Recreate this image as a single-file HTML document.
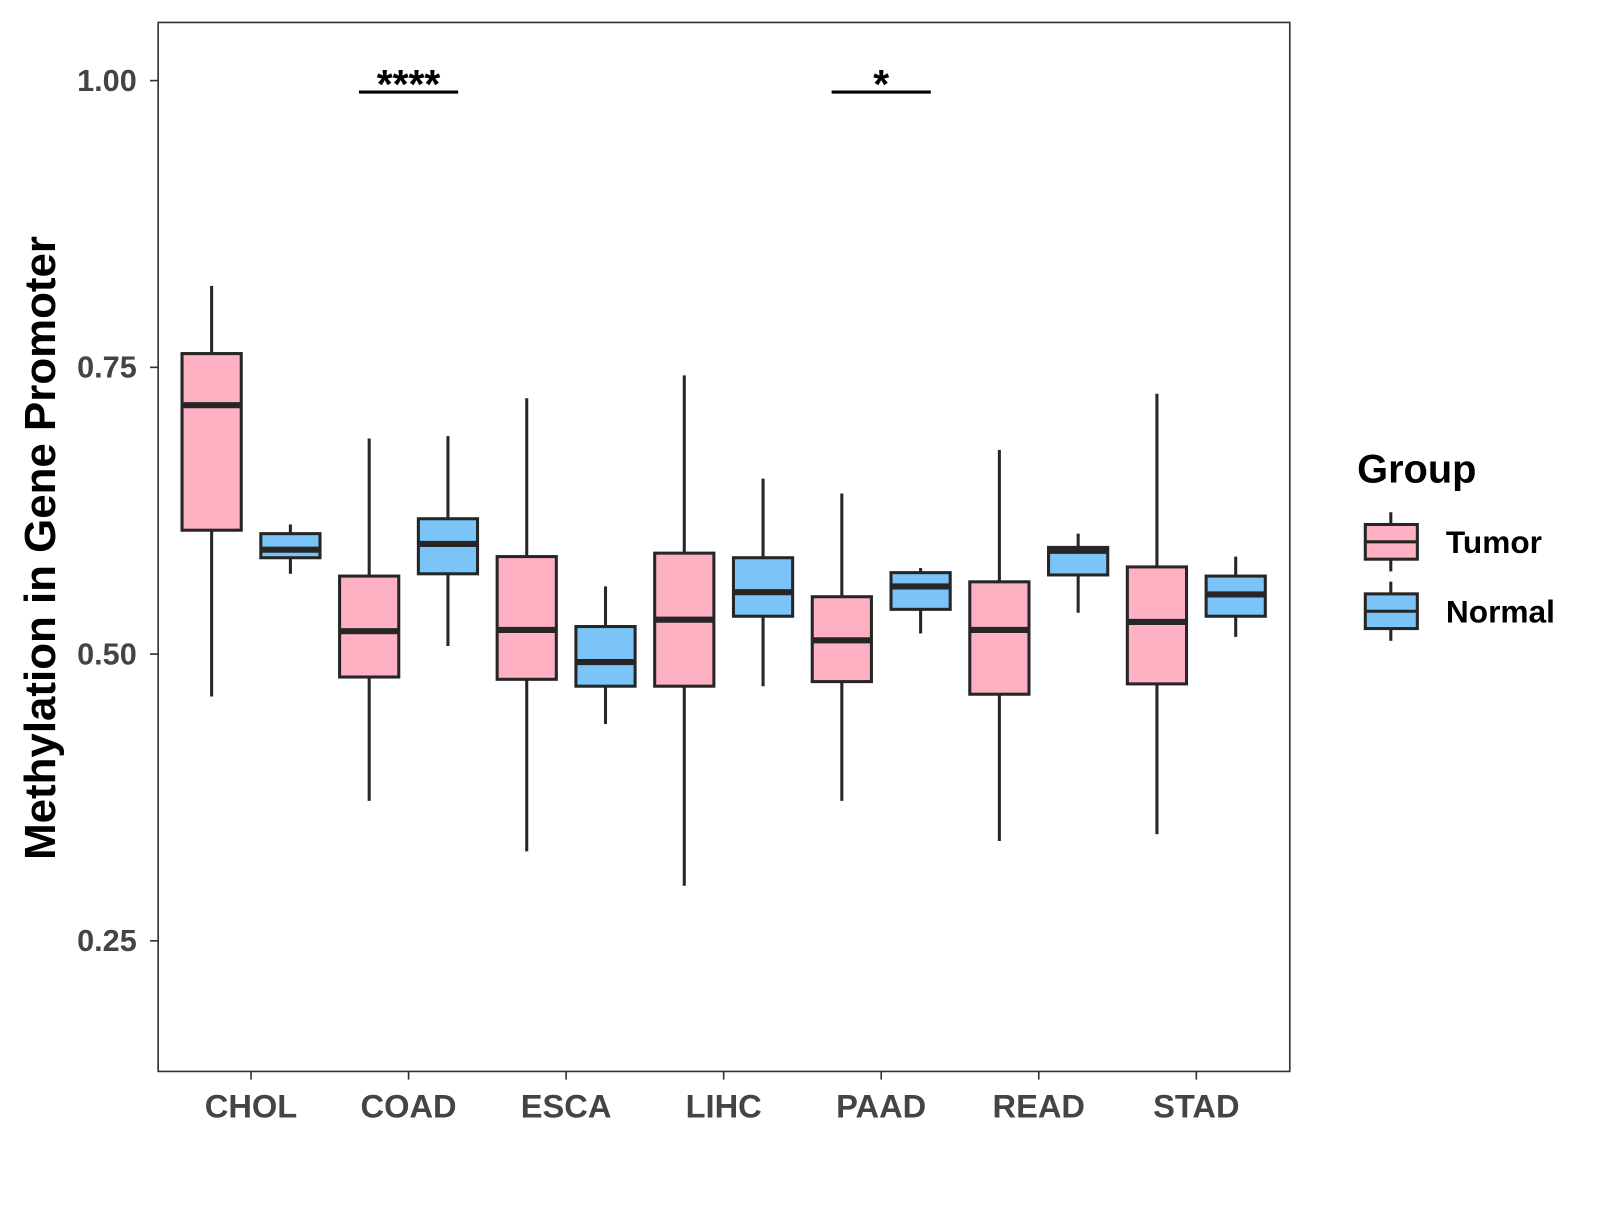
<!DOCTYPE html>
<html><head><meta charset="utf-8"><style>
body{margin:0;background:#fff}
svg text{font-family:"Liberation Sans",Arial,sans-serif;font-weight:bold}
</style></head><body>
<svg id="chart" width="1600" height="1200" xmlns="http://www.w3.org/2000/svg">
<rect x="0" y="0" width="1600" height="1200" fill="#fff"/>
<g id="plot" transform="scale(1.0204)"></g>
</svg>
<script>
const categories=["CHOL","COAD","ESCA","LIHC","PAAD","READ","STAD"];
// [lower whisker, Q1, median, Q3, upper whisker]
const tumorStats=[[0.463,0.608,0.717,0.762,0.821],[0.372,0.480,0.520,0.568,0.688],[0.328,0.478,0.521,0.585,0.723],[0.298,0.472,0.530,0.588,0.743],[0.372,0.476,0.512,0.550,0.640],[0.337,0.465,0.521,0.563,0.678],[0.343,0.474,0.528,0.576,0.727]];
const normalStats=[[0.570,0.584,0.591,0.605,0.613],[0.507,0.570,0.596,0.618,0.690],[0.439,0.472,0.493,0.524,0.559],[0.472,0.533,0.554,0.584,0.653],[0.518,0.539,0.559,0.571,0.575],[0.536,0.569,0.590,0.593,0.605],[0.515,0.533,0.552,0.568,0.585]];
const yTicks=[0.25,0.50,0.75,1.00];
const yTickLabels=["0.25","0.50","0.75","1.00"];
const sigCats=["COAD","PAAD"];
const sigLabels=["****","*"];
const sigLevel=0.99;

const NS="http://www.w3.org/2000/svg";
const g=document.getElementById('plot');
function mk(t,a,p){const e=document.createElementNS(NS,t);for(const k in a)e.setAttribute(k,a[k]);(p||g).appendChild(e);return e;}
const L=155,R=1264,T=22,B=1050;
function y(v){return 79+(1-v)*1124;}
function x(i){return 246+i*154.4;}
const off=38.6,bw=58;
const pink="#FFB1C4",blue="#7AC4F8",dark="#262626";

let e=mk('rect',{x:L,y:T,width:R-L,height:B-T,fill:'none',stroke:'#333','stroke-width':1.6});


yTicks.forEach((v,i)=>{
 let t=mk('line',{x1:L-8,x2:L,y1:y(v),y2:y(v),stroke:'#333','stroke-width':1.6});
 
 let l=mk('text',{x:134,y:y(v)+10,'text-anchor':'end','font-size':30,fill:'#444'});l.textContent=yTickLabels[i];
 
});
categories.forEach((c,i)=>{
 let t=mk('line',{x1:x(i),x2:x(i),y1:B,y2:B+8,stroke:'#333','stroke-width':1.6});
 
 let l=mk('text',{x:x(i),y:B+45,'text-anchor':'middle','font-size':32,fill:'#444'});l.textContent=c;
 
});
function box(cx,s,fill,name){
 const bg=mk('g',{});
 
 mk('line',{x1:cx,x2:cx,y1:y(s[4]),y2:y(s[3]),stroke:dark,'stroke-width':3},bg);
 mk('line',{x1:cx,x2:cx,y1:y(s[1]),y2:y(s[0]),stroke:dark,'stroke-width':3},bg);
 mk('rect',{x:cx-bw/2,y:y(s[3]),width:bw,height:y(s[1])-y(s[3]),fill:fill,stroke:dark,'stroke-width':3},bg);
 mk('line',{x1:cx-bw/2,x2:cx+bw/2,y1:y(s[2]),y2:y(s[2]),stroke:dark,'stroke-width':6},bg);
}
categories.forEach((c,i)=>{
 box(x(i)-off,tumorStats[i],pink,'box-tumor-'+c.toLowerCase());
 box(x(i)+off,normalStats[i],blue,'box-normal-'+c.toLowerCase());
});
sigCats.forEach((c,k)=>{
 const i=categories.indexOf(c);
 let b=mk('line',{x1:x(i)-off-10,x2:x(i)+off+10,y1:y(sigLevel),y2:y(sigLevel),stroke:'#000','stroke-width':3});
 
 let t=mk('text',{x:x(i),y:y(sigLevel)+6,'text-anchor':'middle','font-size':40,fill:'#000'});t.textContent=sigLabels[k];
 
});
let yt=mk('text',{x:0,y:0,transform:'translate(54,537) rotate(-90)','text-anchor':'middle','font-size':43,fill:'#000'});
yt.textContent='Methylation in Gene Promoter';

let lt=mk('text',{x:1330,y:473,'font-size':39,fill:'#000'});lt.textContent='Group';

[["Tumor",pink,531],["Normal",blue,599]].forEach(([n,f,cy])=>{
 const lg=mk('g',{});
 
 mk('line',{x1:1363,x2:1363,y1:cy-29,y2:cy+29,stroke:dark,'stroke-width':3},lg);
 mk('rect',{x:1338,y:cy-17,width:51,height:34,fill:f,stroke:dark,'stroke-width':3},lg);
 mk('line',{x1:1338,x2:1389,y1:cy,y2:cy,stroke:dark,'stroke-width':3},lg);
 const t=mk('text',{x:1417,y:cy+11,'font-size':31,fill:'#000'},lg);t.textContent=n;
});
</script>
</body></html>
